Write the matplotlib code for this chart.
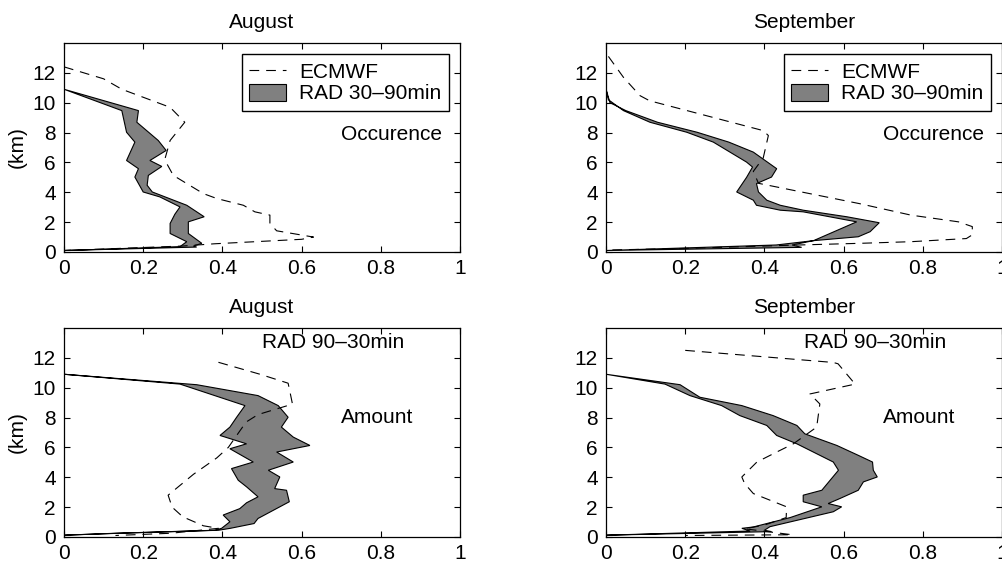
import matplotlib
matplotlib.use("Agg")
import matplotlib.pyplot as plt
import numpy as np

plt.rcParams['font.family'] = ['Liberation Sans', 'DejaVu Sans']
plt.rcParams['font.size'] = 15
plt.rcParams['lines.scale_dashes'] = False

# ---- August, occurrence ----
aug_occ_ec_x = [0.0, 0.10, 0.146, 0.268, 0.305, 0.268, 0.255, 0.26, 0.276, 0.352, 0.386, 0.453,
                0.482, 0.52, 0.52, 0.537, 0.63, 0.60, 0.38, 0.30, 0.0]
aug_occ_ec_y = [12.4, 11.6, 10.9, 9.69, 8.69, 7.47, 6.24, 5.9, 5.13, 3.91, 3.58, 3.13,
                2.69, 2.47, 1.91, 1.42, 1.0, 0.85, 0.55, 0.4, 0.1]
aug_occ_lo_x = [0.0, 0.146, 0.158, 0.179, 0.158, 0.188, 0.179, 0.20, 0.242, 0.293, 0.28,
                0.268, 0.268, 0.31, 0.293, 0.0]
aug_occ_lo_y = [10.9, 9.47, 8.02, 7.36, 6.13, 5.58, 5.02, 4.02, 3.69, 3.02, 2.53,
                1.91, 1.24, 0.69, 0.36, 0.1]
aug_occ_hi_x = [0.0, 0.188, 0.184, 0.238, 0.258, 0.217, 0.247, 0.213, 0.21, 0.223, 0.31,
                0.354, 0.314, 0.314, 0.348, 0.327, 0.335, 0.0]
aug_occ_hi_y = [10.9, 9.47, 8.69, 7.47, 6.8, 6.13, 5.73, 5.13, 4.47, 4.02, 3.13,
                2.36, 2.02, 1.24, 0.58, 0.4, 0.33, 0.1]

# ---- September, occurrence ----
sep_occ_ec_x = [0.006, 0.044, 0.086, 0.11, 0.397, 0.41, 0.397, 0.372, 0.385, 0.64, 0.77,
                0.89, 0.925, 0.925, 0.91, 0.77, 0.64, 0.46, 0.20, 0.0]
sep_occ_ec_y = [13.1, 11.7, 10.47, 10.13, 8.13, 7.8, 6.3, 5.4, 4.6, 3.24, 2.47,
                2.02, 1.7, 1.15, 0.9, 0.69, 0.58, 0.45, 0.24, 0.13]
sep_occ_lo_x = [0.0, 0.006, 0.044, 0.111, 0.204, 0.271, 0.355, 0.37, 0.355, 0.33, 0.372,
                0.38, 0.44, 0.498, 0.633, 0.524, 0.43, 0.0]
sep_occ_lo_y = [10.9, 10.2, 9.47, 8.69, 8.02, 7.36, 6.02, 5.69, 5.0, 4.02, 3.47,
                3.13, 2.8, 2.69, 2.02, 0.76, 0.47, 0.1]
sep_occ_hi_x = [0.0, 0.01, 0.05, 0.13, 0.23, 0.31, 0.372, 0.431, 0.418, 0.38, 0.385,
                0.406, 0.44, 0.498, 0.608, 0.69, 0.667, 0.637, 0.524, 0.47, 0.494, 0.0]
sep_occ_hi_y = [10.9, 10.0, 9.47, 8.69, 8.02, 7.36, 6.69, 5.58, 5.02, 4.58, 4.02,
                3.47, 3.13, 2.8, 2.36, 1.96, 1.36, 1.02, 0.76, 0.47, 0.31, 0.1]

# ---- August, amount ----
aug_amt_ec_x = [0.39, 0.495, 0.566, 0.57, 0.577, 0.49, 0.46, 0.444, 0.415, 0.386, 0.327,
                0.263, 0.273, 0.30, 0.352, 0.39, 0.27, 0.13]
aug_amt_ec_y = [11.7, 10.9, 10.3, 9.8, 8.9, 8.2, 7.7, 7.1, 6.0, 5.3, 4.2,
                2.8, 2.0, 1.35, 0.75, 0.58, 0.25, 0.1]
aug_amt_lo_x = [0.0, 0.293, 0.457, 0.436, 0.419, 0.394, 0.461, 0.419, 0.478, 0.423, 0.44,
                0.461, 0.49, 0.461, 0.444, 0.402, 0.419, 0.398, 0.38, 0.13, 0.0]
aug_amt_lo_y = [10.9, 10.24, 8.8, 8.02, 7.36, 6.8, 6.24, 5.91, 5.02, 4.58, 3.8,
                3.36, 2.69, 2.29, 1.9, 1.47, 1.02, 0.58, 0.45, 0.25, 0.12]
aug_amt_hi_x = [0.0, 0.335, 0.49, 0.541, 0.566, 0.549, 0.579, 0.621, 0.537, 0.579, 0.516,
                0.545, 0.532, 0.562, 0.569, 0.49, 0.48, 0.42, 0.39, 0.14, 0.0]
aug_amt_hi_y = [10.9, 10.2, 9.47, 8.8, 8.02, 7.36, 6.69, 6.13, 5.69, 5.02, 4.47,
                4.02, 3.24, 3.13, 2.36, 1.24, 0.9, 0.58, 0.45, 0.25, 0.12]

# ---- September, amount ----
sep_amt_ec_x = [0.20, 0.574, 0.586, 0.629, 0.515, 0.54, 0.532, 0.473, 0.431, 0.381, 0.343,
                0.35, 0.372, 0.456, 0.455, 0.40, 0.35, 0.47, 0.20]
sep_amt_ec_y = [12.5, 11.69, 11.6, 10.24, 9.58, 8.91, 7.36, 6.24, 5.69, 5.02, 4.02,
                3.58, 2.91, 2.02, 1.3, 0.8, 0.55, 0.15, 0.1]
sep_amt_lo_x = [0.0, 0.149, 0.212, 0.292, 0.338, 0.406, 0.431, 0.482, 0.574, 0.587, 0.566,
                0.545, 0.498, 0.498, 0.545, 0.465, 0.372, 0.343, 0.364, 0.0]
sep_amt_lo_y = [10.9, 10.24, 9.47, 8.8, 8.13, 7.47, 6.8, 6.24, 5.02, 4.47, 3.8,
                3.13, 2.8, 2.36, 2.02, 1.3, 0.67, 0.58, 0.4, 0.12]
sep_amt_hi_x = [0.0, 0.187, 0.237, 0.343, 0.422, 0.482, 0.502, 0.583, 0.637, 0.673, 0.675,
                0.685, 0.65, 0.637, 0.591, 0.561, 0.595, 0.574, 0.414, 0.40, 0.418, 0.0]
sep_amt_hi_y = [10.9, 10.2, 9.36, 8.8, 8.13, 7.47, 6.91, 6.13, 5.47, 5.02, 4.47,
                4.02, 3.69, 3.13, 2.58, 2.24, 2.02, 1.69, 0.69, 0.45, 0.36, 0.12]

xticks = [0, 0.2, 0.4, 0.6, 0.8, 1]
xtick_labels = ["0", "0.2", "0.4", "0.6", "0.8", "1"]
yticks = [0, 2, 4, 6, 8, 10, 12]


def panel(ax, ec_x, ec_y, lo_x, lo_y, hi_x, hi_y, title, ylab):
    # band polygon: lower edge top->bottom, then upper edge bottom->top
    px = np.r_[lo_x, hi_x[::-1]]
    py = np.r_[lo_y, hi_y[::-1]]
    band = ax.fill(px, py, facecolor='#808080', edgecolor='black', lw=0.8,
                   label='RAD 30\u201390min', zorder=2)[0]
    ec, = ax.plot(ec_x, ec_y, color='black', lw=0.8, dashes=(7, 5),
                  label='ECMWF', zorder=3)
    ax.set_xlim(0, 1)
    ax.set_ylim(0, 14)
    ax.set_xticks(xticks)
    ax.set_xticklabels(xtick_labels)
    ax.set_yticks(yticks)
    ax.tick_params(direction='in', top=True, right=True, length=4, width=0.8)
    ax.tick_params(axis='x', pad=5)
    ax.tick_params(axis='y', pad=6)
    for s in ax.spines.values():
        s.set_linewidth(0.9)
    ax.set_title(title, fontsize=15, pad=11)
    if ylab:
        ax.set_ylabel('(km)', labelpad=4)
    return ec, band


fig = plt.figure(figsize=(10.03, 5.64), dpi=100)
w, h = 0.3948, 0.3706
ax1 = fig.add_axes([0.0638, 0.5532, w, h])
ax2 = fig.add_axes([0.6042, 0.5532, w, h])
ax3 = fig.add_axes([0.0638, 0.0479, w, h])
ax4 = fig.add_axes([0.6042, 0.0479, w, h])

ec, band = panel(ax1, aug_occ_ec_x, aug_occ_ec_y, aug_occ_lo_x, aug_occ_lo_y,
                 aug_occ_hi_x, aug_occ_hi_y, 'August', True)
panel(ax2, sep_occ_ec_x, sep_occ_ec_y, sep_occ_lo_x, sep_occ_lo_y,
      sep_occ_hi_x, sep_occ_hi_y, 'September', False)
panel(ax3, aug_amt_ec_x, aug_amt_ec_y, aug_amt_lo_x, aug_amt_lo_y,
      aug_amt_hi_x, aug_amt_hi_y, 'August', True)
panel(ax4, sep_amt_ec_x, sep_amt_ec_y, sep_amt_lo_x, sep_amt_lo_y,
      sep_amt_hi_x, sep_amt_hi_y, 'September', False)

for ax in (ax1, ax2):
    leg = ax.legend([ec, band], ['ECMWF', 'RAD 30\u201390min'], loc='upper right',
                    fancybox=False, framealpha=1, edgecolor='black',
                    borderaxespad=0.55, handlelength=1.8, handleheight=0.9,
                    handletextpad=0.6, labelspacing=0.1, borderpad=0.35)
    leg.get_frame().set_linewidth(1.0)
    ax.text(0.826, 7.9, 'Occurence', ha='center', va='center')

for ax in (ax3, ax4):
    ax.text(0.68, 13.0, 'RAD 90\u201330min', ha='center', va='center')
    ax.text(0.79, 8.0, 'Amount', ha='center', va='center')

fig.savefig('out.png', dpi=100)
